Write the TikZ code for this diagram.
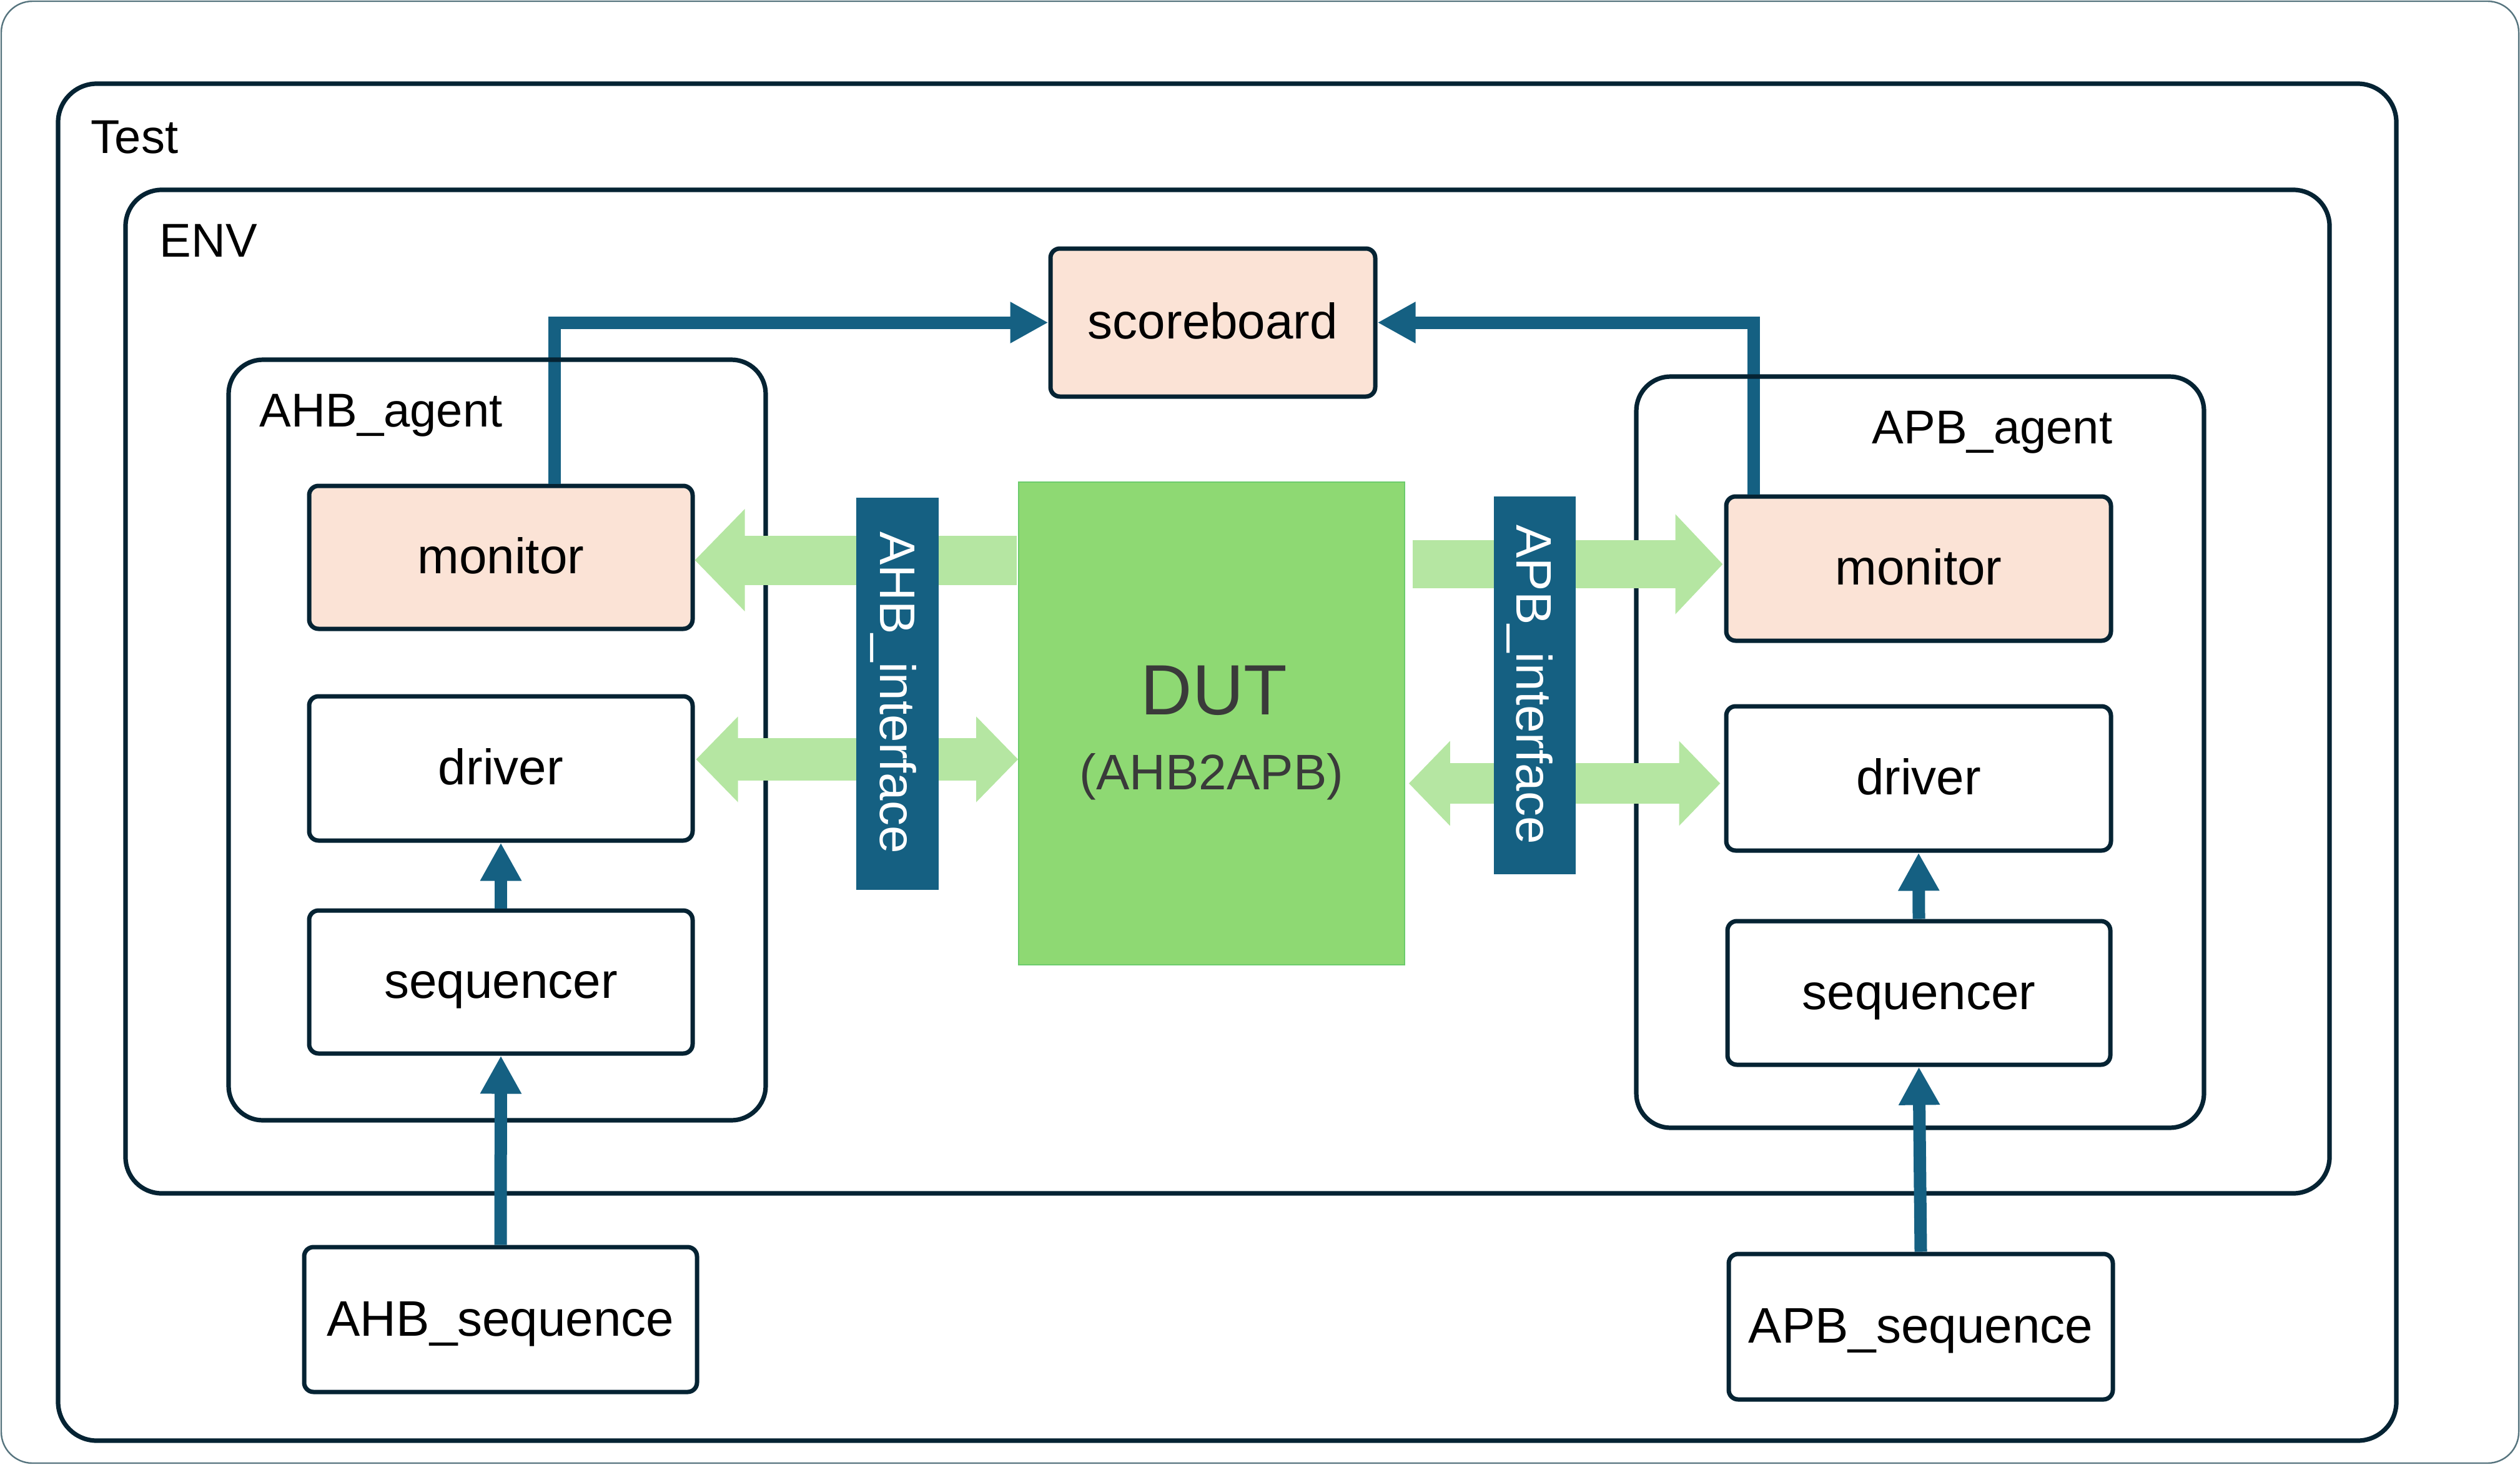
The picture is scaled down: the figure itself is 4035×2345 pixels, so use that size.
\documentclass[tikz,border=0pt]{standalone}
\usepackage{fontspec}
\setmainfont{Liberation Sans}
\usetikzlibrary{arrows.meta,calc}
\definecolor{navy}{HTML}{052333}
\definecolor{cblue}{HTML}{156082}
\definecolor{peach}{HTML}{FBE3D6}
\definecolor{dutgreen}{HTML}{8ED973}
\definecolor{dutedge}{HTML}{6CCB6C}
\definecolor{lgreen}{HTML}{B5E6A2}
\definecolor{framec}{HTML}{56747E}
\definecolor{dutgray}{HTML}{3A3A3A}
\newcommand\mkbox[7]{\node[#1, minimum width={(#5-#3)*0.25pt}, minimum height={(#6-#4)*0.25pt}] (#2) at ({(#3+#5)/2},{(#4+#6)/2}) {#7};}
\tikzset{
  container/.style={draw=navy, line width=1.8pt, rectangle, inner sep=0pt},
  unit/.style={draw=navy, line width=1.75pt, rectangle, rounded corners=3.75pt, inner sep=0pt,
    text height=14.6pt, text depth=1.5pt, font=\fontsize{20}{24}\selectfont, text=black},
  peachunit/.style={unit, fill=peach},
  whiteunit/.style={unit, fill=white},
  conn/.style={draw=cblue, line width=5pt, line join=miter, -{Triangle[length=15.25pt,width=15.5pt]}},
  lbl/.style={inner sep=0pt, font=\fontsize{19}{23}\selectfont, text=black},
  ifbar/.style={fill=cblue, rectangle, inner sep=0pt},
  iftext/.style={inner sep=0pt, rotate=-90, anchor=base, text=white, font=\fontsize{20}{24}\selectfont},
}
\begin{document}
\begin{tikzpicture}[x=0.25pt, y=-0.25pt]
\useasboundingbox (0,0) rectangle (4035,2345);
% outer frame
\draw[framec, line width=0.6pt, rounded corners=12.5pt] (2,2) rectangle (4033,2343);
% containers
\mkbox{container, rounded corners=15.5pt}{test}{93}{134}{3837}{2307}{}
\mkbox{container, rounded corners=14.5pt}{env}{201}{304}{3730}{1911}{}
% units
\mkbox{peachunit}{score}{1682}{398}{2202}{635}{scoreboard}
\mkbox{peachunit}{monL}{495}{778}{1109}{1007}{monitor}
\mkbox{whiteunit}{drvL}{495}{1115}{1109}{1346}{driver}
\mkbox{whiteunit}{seqL}{495}{1458}{1109}{1687}{sequencer}
\mkbox{whiteunit}{ahbseq}{487}{1997}{1116}{2229}{AHB\_sequence}
\mkbox{peachunit}{monR}{2764}{795}{3380}{1026}{monitor}
\mkbox{whiteunit}{drvR}{2764}{1131}{3380}{1362}{driver}
\mkbox{whiteunit}{seqR}{2766}{1475}{3379}{1705}{sequencer}
\mkbox{whiteunit}{apbseq}{2768}{2008}{3383}{2241}{APB\_sequence}
% monitor -> scoreboard
\draw[conn] ([xshift=99pt]monL.north west) |- (score.west);
\draw[conn] ([xshift=11.75pt]monR.north west) |- (score.east);
% agents
\mkbox{container, rounded corners=13.75pt}{ahbag}{366}{576}{1226}{1794}{}
\mkbox{container, rounded corners=13.75pt}{apbag}{2620}{603}{3529}{1806}{}
% sequence arrows
\draw[conn] (seqL.north) -- (drvL.south);
\draw[conn] (ahbseq.north) -- (seqL.south);
\draw[conn] (seqR.north) -- (drvR.south);
\draw[conn] (apbseq.north) -- (seqR.south);
% DUT
\mkbox{fill=dutgreen, draw=dutedge, line width=0.4pt, rectangle, inner sep=0pt}{dut}{1631}{772}{2249}{1545}{}
\node[inner sep=0pt, anchor=base, text=dutgray, font=\fontsize{28.5}{34}\selectfont] (dutname) at (1944,1144) {DUT};
\node[inner sep=0pt, anchor=base, text=dutgray, font=\fontsize{20}{24}\selectfont] (dutsub) at (1940,1264) {(AHB2APB)};
% green interface arrows
\coordinate (g1) at (0,897);
\coordinate (g2) at (0,1216);
\coordinate (g3) at (0,903.5);
\coordinate (g4) at (0,1254.5);
\draw[lgreen, line width=19.75pt, -{Triangle[length=20pt,width=39.75pt]}] ([xshift=-0.5pt]dut.west |- g1) -- (monL.east |- g1);
\draw[lgreen, line width=17pt, {Triangle[length=16.75pt,width=33.25pt]}-{Triangle[length=16.75pt,width=33.25pt]}] ([xshift=0.5pt]drvL.east |- g2) -- (dut.west |- g2);
\draw[lgreen, line width=19.25pt, -{Triangle[length=19pt,width=39pt]}] ([xshift=3pt]dut.east |- g3) -- ([xshift=-0.5pt]monR.west |- g3);
\draw[lgreen, line width=16.25pt, {Triangle[length=16.5pt,width=33pt]}-{Triangle[length=16.5pt,width=33pt]}] ([xshift=1.5pt]dut.east |- g4) -- ([xshift=-1.5pt]drvR.west |- g4);
% interface bars
\mkbox{ifbar}{ahbif}{1371}{797}{1503}{1425}{}
\mkbox{ifbar}{apbif}{2392}{795}{2523}{1400}{}
\node[iftext] (ahbiftxt) at (1409,1109) {AHB\_interface};
\node[iftext] (apbiftxt) at (2428.5,1096) {APB\_interface};
% labels
\node[lbl, anchor=base west] (ltest) at (145,245) {Test};
\node[lbl, anchor=base west] (lenv) at (255,411) {ENV};
\node[lbl, anchor=base west] (lahb) at (415,683) {AHB\_agent};
\node[lbl, anchor=base east] (lapb) at (3383,710) {APB\_agent};
\end{tikzpicture}
\end{document}
